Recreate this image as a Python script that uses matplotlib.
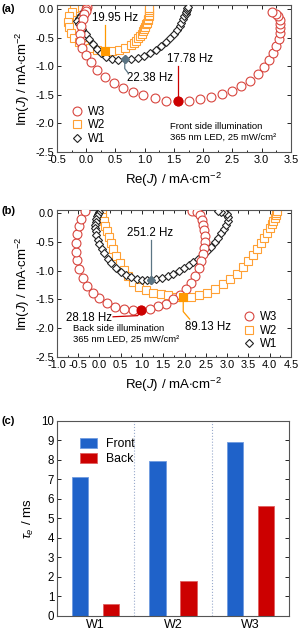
import matplotlib.pyplot as plt
from matplotlib.ticker import MultipleLocator

plt.rcParams['font.family'] = ['Liberation Sans', 'DejaVu Sans']
plt.rcParams['mathtext.fontset'] = 'custom'
plt.rcParams['mathtext.rm'] = 'Liberation Sans'
plt.rcParams['mathtext.it'] = 'Liberation Sans:italic'
plt.rcParams['mathtext.bf'] = 'Liberation Sans:bold'

# ---- (a) front side illumination, Nyquist data (Re, Im) ----
a_w3_re = [0.01, 0.0, -0.01, -0.03, -0.06, -0.09, -0.11, -0.1, -0.07, -0.01, 0.08, 0.19, 0.32, 0.47,
           0.63, 0.8, 0.98, 1.17, 1.37, 1.57, 1.76, 1.95, 2.14, 2.32, 2.49, 2.65, 2.8, 2.93, 3.04,
           3.13, 3.2, 3.25, 3.29, 3.31, 3.32, 3.32, 3.31, 3.28, 3.24, 3.18]
a_w3_im = [0.03, 0.0, -0.03, -0.08, -0.18, -0.3, -0.43, -0.56, -0.68, -0.8, -0.93, -1.06, -1.18, -1.29,
           -1.38, -1.45, -1.51, -1.56, -1.6, -1.61, -1.6, -1.58, -1.54, -1.49, -1.43, -1.35, -1.25, -1.14,
           -1.02, -0.89, -0.76, -0.64, -0.52, -0.42, -0.33, -0.26, -0.19, -0.13, -0.08, -0.05]
a_w2_re = [0.0, -0.03, -0.08, -0.14, -0.2, -0.25, -0.29, -0.31, -0.3, -0.26, -0.2, -0.12, -0.03, 0.07,
           0.19, 0.32, 0.44, 0.56, 0.67, 0.77, 0.81, 0.85, 0.88, 0.92, 0.95, 0.97, 0.99, 1.01, 1.03,
           1.04, 1.05, 1.06, 1.07, 1.07, 1.08, 1.08, 1.08]
a_w2_im = [0.03, 0.04, 0.05, 0.04, 0.01, -0.05, -0.13, -0.22, -0.32, -0.42, -0.5, -0.57, -0.63, -0.68,
           -0.72, -0.74, -0.74, -0.72, -0.68, -0.62, -0.59, -0.55, -0.51, -0.47, -0.43, -0.39, -0.35,
           -0.31, -0.27, -0.24, -0.2, -0.17, -0.13, -0.1, -0.06, -0.02, 0.01]
a_w1_re = [0.02, 0.0, -0.03, -0.08, -0.13, -0.15, -0.12, -0.07, -0.01, 0.05, 0.11, 0.18, 0.25, 0.34,
           0.44, 0.55, 0.66, 0.77, 0.88, 0.99, 1.09, 1.19, 1.28, 1.36, 1.43, 1.5, 1.55, 1.6, 1.63,
           1.66, 1.68, 1.7, 1.71, 1.72, 1.73, 1.74]
a_w1_im = [0.02, 0.0, -0.04, -0.1, -0.16, -0.21, -0.27, -0.35, -0.44, -0.53, -0.61, -0.7, -0.77, -0.83,
           -0.87, -0.89, -0.88, -0.88, -0.86, -0.82, -0.77, -0.71, -0.65, -0.58, -0.51, -0.44, -0.37,
           -0.3, -0.24, -0.18, -0.13, -0.09, -0.05, -0.02, 0.01, 0.04]
# characteristic frequency points (a)
a_pk_w3 = (1.57, -1.61, '17.78 Hz')
a_pk_w2 = (0.32, -0.74, '19.95 Hz')
a_pk_w1 = (0.66, -0.88, '22.38 Hz')

# ---- (b) back side illumination ----
b_w3_re = [2.18, 2.3, 2.37, 2.41, 2.44, 2.46, 2.47, 2.47, 2.46, 2.43, 2.39, 2.33, 2.25, 2.15, 2.03,
           1.89, 1.74, 1.57, 1.38, 1.18, 0.98, 0.78, 0.57, 0.37, 0.18, 0.0, -0.16, -0.29, -0.39, -0.47,
           -0.52, -0.54, -0.55, -0.53, -0.49, -0.43, -0.33]
b_w3_im = [0.04, 0.02, -0.04, -0.12, -0.21, -0.3, -0.4, -0.5, -0.6, -0.71, -0.83, -0.96, -1.09, -1.21,
           -1.32, -1.42, -1.5, -1.57, -1.62, -1.66, -1.68, -1.69, -1.67, -1.63, -1.56, -1.48, -1.38,
           -1.26, -1.12, -0.97, -0.82, -0.67, -0.52, -0.37, -0.23, -0.1, 0.03]
b_w2_re = [0.03, 0.05, 0.07, 0.1, 0.13, 0.17, 0.22, 0.27, 0.33, 0.4, 0.48, 0.57, 0.68, 0.8, 0.94, 1.1,
           1.27, 1.44, 1.62, 1.8, 1.97, 2.15, 2.34, 2.53, 2.72, 2.9, 3.07, 3.23, 3.37, 3.5, 3.61, 3.71,
           3.8, 3.87, 3.94, 4.0, 4.05, 4.09, 4.12, 4.14, 4.16, 4.17]
b_w2_im = [0.02, -0.02, -0.07, -0.14, -0.22, -0.31, -0.41, -0.52, -0.63, -0.75, -0.87, -0.99, -1.1,
           -1.2, -1.28, -1.34, -1.38, -1.41, -1.43, -1.45, -1.46, -1.45, -1.42, -1.38, -1.32, -1.24,
           -1.15, -1.05, -0.94, -0.83, -0.72, -0.62, -0.52, -0.43, -0.34, -0.26, -0.19, -0.13, -0.08,
           -0.04, 0.0, 0.03]
b_w1_re = [-0.02, -0.04, -0.06, -0.08, -0.09, -0.1, -0.1, -0.09, -0.07, -0.04, 0.0, 0.05, 0.11, 0.19,
           0.28, 0.38, 0.5, 0.62, 0.75, 0.88, 1.01, 1.12, 1.22, 1.34, 1.47, 1.6, 1.73, 1.86, 1.98, 2.1,
           2.21, 2.32, 2.43, 2.53, 2.62, 2.71, 2.79, 2.86, 2.93, 2.98, 3.02, 3.03, 3.0, 2.94, 2.86, 2.78]
b_w1_im = [0.01, -0.02, -0.06, -0.1, -0.15, -0.2, -0.26, -0.32, -0.39, -0.46, -0.54, -0.62, -0.7, -0.79,
           -0.87, -0.95, -1.02, -1.07, -1.11, -1.14, -1.16, -1.16, -1.16, -1.15, -1.13, -1.1, -1.06,
           -1.01, -0.96, -0.91, -0.85, -0.79, -0.73, -0.66, -0.59, -0.51, -0.43, -0.35, -0.27, -0.2,
           -0.13, -0.07, -0.02, 0.01, 0.02, 0.03]
b_pk_w3 = (0.98, -1.68, '28.18 Hz')
b_pk_w2 = (1.97, -1.46, '89.13 Hz')
b_pk_w1 = (1.22, -1.16, '251.2 Hz')

# ---- (c) electron lifetime ----
samples = ['W1', 'W2', 'W3']
tau_front = [7.1, 7.95, 8.92]
tau_back = [0.62, 1.78, 5.62]

red_e, red_f = '#d8453e', '#cc0000'
org_e, org_f = '#ffa034', '#ff9900'
blk_e, blk_f = '#222222', '#5b7584'

fig = plt.figure(figsize=(2.98, 6.31), dpi=100)
ax1 = fig.add_axes([0.191, 0.759, 0.785, 0.233])
ax2 = fig.add_axes([0.191, 0.434, 0.785, 0.233])
ax3 = fig.add_axes([0.191, 0.024, 0.779, 0.309])

fs = 7.9
ms = 6.4
mew = 0.8
sizes = {'o': ms, 's': ms - 0.6, 'D': ms - 1.9}


def nyquist(ax, w3, w2, w1, pks):
    ax.plot(w2[0], w2[1], 's', ms=sizes['s'], mfc='white', mec=org_e, mew=mew, ls='none', zorder=2, label='W2')
    ax.plot(w1[0], w1[1], 'D', ms=sizes['D'], mfc='white', mec=blk_e, mew=mew, ls='none', zorder=3, label='W1')
    ax.plot(w3[0], w3[1], 'o', ms=sizes['o'], mfc='white', mec=red_e, mew=mew, ls='none', zorder=4, label='W3')
    for (re, im, _), mk, col in zip(pks, ['o', 's', 'D'], [red_f, org_f, blk_f]):
        ax.plot([re], [im], mk, ms=sizes[mk], mfc=col, mec=col, mew=mew, zorder=6)
    h, l = ax.get_legend_handles_labels()
    return [h[2], h[0], h[1]], [l[2], l[0], l[1]]


def style(ax, xlim, ylim):
    ax.set_xlim(*xlim)
    ax.set_ylim(*ylim)
    ax.xaxis.set_major_locator(MultipleLocator(0.5))
    ax.xaxis.set_minor_locator(MultipleLocator(0.25))
    ax.yaxis.set_major_locator(MultipleLocator(0.5))
    ax.tick_params(which='both', direction='in', top=True, right=True, labelsize=fs, width=0.6, pad=2)
    ax.tick_params(which='major', length=3)
    ax.tick_params(which='minor', length=1.8)
    ax.xaxis.set_major_formatter(plt.FormatStrFormatter('%.1f'))
    ax.yaxis.set_major_formatter(plt.FormatStrFormatter('%.1f'))
    for sp in ax.spines.values():
        sp.set_color('#555555')
        sp.set_linewidth(0.8)
    ax.set_xlabel(r'Re($J$) / mA$\cdot$cm$^{-2}$', fontsize=9.5, labelpad=4)
    ax.set_ylabel(r'Im($J$) / mA$\cdot$cm$^{-2}$', fontsize=9.5, labelpad=2)


# (a)
h, l = nyquist(ax1, (a_w3_re, a_w3_im), (a_w2_re, a_w2_im), (a_w1_re, a_w1_im), [a_pk_w3, a_pk_w2, a_pk_w1])
style(ax1, (-0.5, 3.5), (-2.5, 0.07))
ax1.legend(h, l, loc='upper left', bbox_to_anchor=(0.02, 0.37), frameon=False, fontsize=8.3,
           handletextpad=0.4, labelspacing=0.15, handlelength=1.2, borderpad=0.2)
re, im, t = a_pk_w2
ax1.plot([re, re], [im, -0.28], color=org_f, lw=0.9, zorder=5)
ax1.text(re - 0.22, -0.16, t, fontsize=8.3, va='center', ha='left')
re, im, t = a_pk_w1
ax1.plot([re, re, re + 0.06], [im, im - 0.16, im - 0.24], color=blk_f, lw=0.9, zorder=5)
ax1.text(re + 0.04, -1.21, t, fontsize=8.3, va='center', ha='left')
re, im, t = a_pk_w3
ax1.plot([re, re], [im, -1.0], color=red_f, lw=0.9, zorder=5)
ax1.text(re - 0.19, -0.88, t, fontsize=8.3, va='center', ha='left')
ax1.text(1.43, -2.15, 'Front side illumination\n365 nm LED, 25 mW/cm\u00b2', fontsize=6.8,
         va='center', ha='left', linespacing=1.25)

# (b)
h, l = nyquist(ax2, (b_w3_re, b_w3_im), (b_w2_re, b_w2_im), (b_w1_re, b_w1_im), [b_pk_w3, b_pk_w2, b_pk_w1])
style(ax2, (-1.0, 4.5), (-2.5, 0.05))
ax2.legend(h, l, loc='upper left', bbox_to_anchor=(0.755, 0.37), frameon=False, fontsize=8.3,
           handletextpad=0.4, labelspacing=0.15, handlelength=1.2, borderpad=0.2)
re, im, t = b_pk_w1
ax2.plot([re, re], [im, -0.47], color=blk_f, lw=0.9, zorder=5)
ax2.text(re - 0.58, -0.35, t, fontsize=8.3, va='center', ha='left')
re, im, t = b_pk_w3
ax2.plot([0.32, re - 0.08, re], [-1.8, -1.78, im], color=red_f, lw=0.9, zorder=5)
ax2.text(-0.78, -1.82, t, fontsize=8.3, va='center', ha='left')
re, im, t = b_pk_w2
ax2.plot([re, re, re + 0.15], [im, im - 0.25, im - 0.38], color=org_f, lw=0.9, zorder=5)
ax2.text(re + 0.05, -1.98, t, fontsize=8.3, va='center', ha='left')
ax2.text(-0.62, -2.1, 'Back side illumination\n365 nm LED, 25 mW/cm\u00b2', fontsize=6.8,
         va='center', ha='left', linespacing=1.25)

# (c)
pos = list(range(len(samples)))
bw = 0.21
ax3.bar([p - 0.2 for p in pos], tau_front, bw, color='#1f62c9', edgecolor='#6f9be0', lw=0.6, label='Front', zorder=2)
ax3.bar([p + 0.2 for p in pos], tau_back, bw, color='#cc0000', edgecolor='#e06060', lw=0.6, label='Back', zorder=2)
ax3.set_xlim(-0.5, 2.5)
ax3.set_ylim(0, 10)
ax3.set_xticks(pos)
ax3.set_xticklabels(samples)
ax3.yaxis.set_major_locator(MultipleLocator(1))
ax3.tick_params(axis='x', length=0, labelsize=9, pad=2)
ax3.tick_params(axis='y', direction='in', right=True, labelsize=8.3, length=3, width=0.6, pad=2)
for p in pos[:-1]:
    ax3.axvline(p + 0.5, color='#99aacc', ls=':', lw=0.8, zorder=1)
for sp in ax3.spines.values():
    sp.set_color('#555555')
    sp.set_linewidth(0.8)
ax3.set_ylabel(r'$\tau_e$ / ms', fontsize=9.5, labelpad=4)
ax3.legend(loc='upper left', bbox_to_anchor=(0.05, 0.97), frameon=False, fontsize=8.8,
           handlelength=1.4, handleheight=0.9, handletextpad=0.8, labelspacing=0.25)

fig.text(0.005, 0.985, '(a)', fontsize=8, fontweight='bold', va='center')
fig.text(0.005, 0.665, '(b)', fontsize=8, fontweight='bold', va='center')
fig.text(0.005, 0.333, '(c)', fontsize=8, fontweight='bold', va='center')

fig.savefig('out.png', dpi=100)
